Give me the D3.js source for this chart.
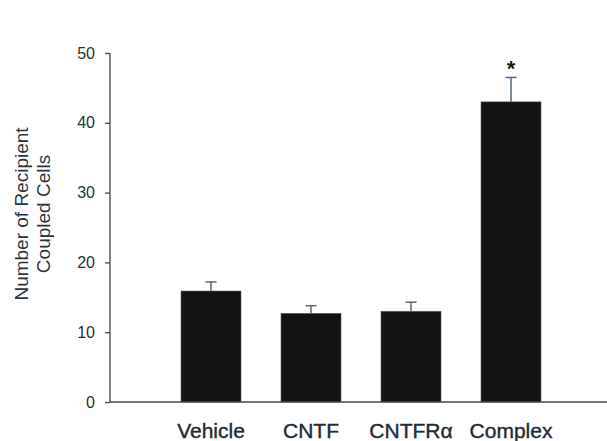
<!DOCTYPE html>
<html><head><meta charset="utf-8">
<script src="https://cdn.jsdelivr.net/npm/d3@7"></script>
<style>body{margin:0;background:#fff}svg{display:block}</style>
</head><body>
<svg id="c" width="607" height="441"></svg>
<script>
const categories = ["Vehicle", "CNTF", "CNTFR\u03B1", "Complex"];
const means = [15.9, 12.7, 13.0, 43.0];
const sems = [1.3, 1.1, 1.3, 3.5];
const significant = [false, false, false, true];
const yTicks = [0, 10, 20, 30, 40, 50];
const yLabelLines = ["Number of Recipient", "Coupled Cells"];

const svg = d3.select("#c");
const axisColor = "#3d4b55";
const font = "Liberation Sans, Arial, sans-serif";
const y = d3.scaleLinear().domain([0, 50]).range([402, 53]);
const x = d3.scaleBand().domain(categories).range([141, 581]).paddingInner(0.4).paddingOuter(0.4);

// bars
svg.selectAll("rect.bar").data(categories).enter().append("rect")
  .attr("x", d => x(d)).attr("width", x.bandwidth())
  .attr("y", (d, i) => y(means[i])).attr("height", (d, i) => y(0) - y(means[i]))
  .attr("fill", "#121212").attr("stroke", "#6b5a55").attr("stroke-width", 0.6);

// error bars
const eb = svg.append("g").attr("stroke", "#56697a").attr("stroke-width", 1.5);
categories.forEach((d, i) => {
  const cx = x(d) + x.bandwidth() / 2;
  eb.append("line").attr("x1", cx).attr("x2", cx).attr("y1", y(means[i])).attr("y2", y(means[i] + sems[i]));
  eb.append("line").attr("x1", cx - 5.5).attr("x2", cx + 5.5).attr("y1", y(means[i] + sems[i])).attr("y2", y(means[i] + sems[i]));
  if (significant[i]) {
    svg.append("text").attr("x", cx).attr("y", y(means[i] + sems[i]) - 1)
      .attr("text-anchor", "middle").attr("font-family", font)
      .attr("font-weight", "bold").attr("font-size", 22).attr("fill", "#1a1a1a").text("*");
  }
});

// y axis
const yAxis = d3.axisLeft(y).tickValues(yTicks).tickSize(5).tickPadding(10);
const ga = svg.append("g").attr("transform", "translate(110,0)").call(yAxis);
ga.select(".domain").attr("stroke", axisColor).attr("stroke-width", 1.3).attr("d", "M0," + y(50) + "V" + y(0));
ga.selectAll(".tick line").attr("stroke", axisColor).attr("stroke-width", 1.3);
ga.selectAll(".tick text").attr("font-family", font)
  .attr("font-size", 16).attr("fill", "#26323a");

// x axis
const xAxis = d3.axisBottom(x).tickSize(0).tickPadding(21);
const gx = svg.append("g").attr("transform", "translate(0," + y(0) + ")").call(xAxis);
gx.select(".domain").attr("stroke", axisColor).attr("stroke-width", 1.3).attr("d", "M110,0H607");
gx.selectAll(".tick text").attr("font-family", font)
  .attr("font-size", 21).attr("fill", "#222c33").attr("stroke", "#222c33").attr("stroke-width", 0.4).attr("dy", "0.71em");

// y label
const yl = svg.append("text").attr("transform", "translate(0,214) rotate(-90)")
  .attr("text-anchor", "middle").attr("font-family", font)
  .attr("font-size", 19).attr("fill", "#2a353d");
yLabelLines.forEach((t, i) => {
  yl.append("tspan").attr("x", 0).attr("y", 28 + i * 22).text(t);
});
</script>
</body></html>
